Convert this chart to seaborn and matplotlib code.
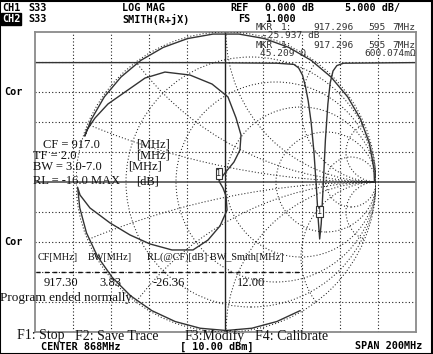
import numpy as np
import matplotlib
matplotlib.use("Agg")
import matplotlib.pyplot as plt
import seaborn as sns
import pandas as pd
from matplotlib.patches import Circle, Rectangle

W, H = 433, 354

# ---------------- data ----------------
# CH1 S33 LOG MAG trace (frequency MHz, dB)
logmag_freq = [768, 850, 895, 904, 906.5, 908.5, 910, 911.5, 913, 914.5, 915.8, 916.8, 917.5,
               918.3, 919.3, 920.5, 921.8, 923, 924.5, 926.5, 930, 968]
logmag_db = [-0.1, -0.1, -0.2, -0.4, -1.0, -2.2, -4.0, -6.5, -10.0, -15.0, -21.0, -26.5,
             -29.5, -27.0, -21.0, -13.0, -7.0, -3.5, -1.5, -0.6, -0.2, -0.1]

# CH2 S33 SMITH trace: arc before the resonance loop (|G|, angle deg)
arc1_mag = [0.99, 0.99, 0.99, 0.99, 0.99, 0.99, 0.99, 0.99, 0.99, 0.99, 0.99, 0.99, 0.99]
arc1_deg = [-60, -70, -80, -90, -100, -110, -120, -130, -140, -150, -160, -170, -178]
# resonance loop (Re G, Im G)
loop_re = [-0.973, -0.907, -0.773, -0.640, -0.507, -0.360, -0.220, -0.120, -0.040,
           0.007, 0.000, -0.020, -0.047, -0.007, 0.053, 0.093, 0.100, 0.067, 0.013,
           -0.093, -0.240, -0.407, -0.540, -0.673, -0.787, -0.873, -0.927]
loop_im = [-0.087, -0.173, -0.273, -0.353, -0.413, -0.453, -0.453, -0.387, -0.293,
           -0.187, -0.093, -0.040, 0.007, 0.060, 0.133, 0.213, 0.313, 0.427, 0.567,
           0.653, 0.713, 0.733, 0.693, 0.600, 0.520, 0.427, 0.347]
# arc after the loop
arc2_mag = [0.99] * 18
arc2_deg = [162, 155, 145, 135, 125, 115, 105, 95, 85, 75, 65, 55, 45, 35, 25, 15, 5, 0]

marker_freq = 917.296
marker_db = -25.937
marker_re, marker_im = -0.047, 0.007

table_header = ["CF[MHz]", "BW[MHz]", "RL(@CF)[dB] BW_Smith[MHz]"]
table_values = ["917.30", "3.83", "-26.36", "12.00"]

# ---------------- figure ----------------
sns.set_theme(style="white")
plt.rcParams['font.family'] = ['DejaVu Sans']

fig = plt.figure(figsize=(W / 100, H / 100), dpi=100)
fig.patch.set_facecolor("white")

# rectangular graticule + log mag
ax = fig.add_axes([34.5 / W, 1 - 332 / H, 381.5 / W, 300 / H])
ax.set_xlim(768, 968)
ax.set_ylim(-45, 5)
ax.set_xticks([]); ax.set_yticks([])
for s in ax.spines.values():
    s.set_color("#8a8a8a"); s.set_linewidth(1.3)
for i in range(1, 10):
    f = 768 + 20 * i
    if i == 5:
        ax.axvline(f, color="#222222", lw=1.0)
    else:
        ax.axvline(f, color="#222222", lw=0.8, ls=(0, (1, 2)))
    d = 5 - 5 * i
    if i == 5:
        ax.axhline(d, color="#444444", lw=1.1)
    else:
        ax.axhline(d, color="#222222", lw=0.8, ls=(0, (1, 2)))

lm = pd.DataFrame({"f": logmag_freq, "db": logmag_db})
sns.lineplot(data=lm, x="f", y="db", ax=ax, color="#333333", lw=1.0, sort=False,
             estimator=None)
ax.set_xlabel(""); ax.set_ylabel("")
ax.text(marker_freq, marker_db + 1.0, "1", fontsize=6, ha="center", va="center",
        family="DejaVu Sans Mono",
        bbox=dict(boxstyle="square,pad=0.1", fc="white", ec="#333333", lw=0.8))

# Smith chart
sax = fig.add_axes([76 / W, 1 - 332 / H, 300 / W, 300 / H])
sax.set_xlim(-1, 1); sax.set_ylim(-1, 1)
sax.axis("off")
sax.patch.set_alpha(0)
gkw = dict(fill=False, ec="#222222", lw=0.75, ls=(0, (1, 2)))
outer = Circle((0, 0), 1, transform=sax.transData, fill=False, ec="none")
sax.add_patch(outer)
sax.add_patch(Circle((0, 0), 1, **gkw))
for r in [0.2, 0.5, 1, 2, 5]:
    sax.add_patch(Circle((r / (1 + r), 0), 1 / (1 + r), **gkw))
for xv in [0.2, 0.5, 1, 2, 5]:
    for sgn in [1, -1]:
        c = Circle((1, sgn / xv), 1 / xv, **gkw)
        sax.add_patch(c)
        c.set_clip_path(outer)

a1 = np.deg2rad(arc1_deg); a2 = np.deg2rad(arc2_deg)
tr_re = np.concatenate([np.array(arc1_mag) * np.cos(a1), loop_re, np.array(arc2_mag) * np.cos(a2)])
tr_im = np.concatenate([np.array(arc1_mag) * np.sin(a1), loop_im, np.array(arc2_mag) * np.sin(a2)])
sm = pd.DataFrame({"re": tr_re, "im": tr_im})
sns.lineplot(data=sm, x="re", y="im", ax=sax, color="#333333", lw=1.0, sort=False,
             estimator=None)
sax.set_xlabel(""); sax.set_ylabel("")
sax.set_xlim(-1, 1); sax.set_ylim(-1, 1)
for ln in sax.lines:
    ln.set_clip_on(False)
sax.text(marker_re + 0.0, marker_im + 0.05, "1", fontsize=6, ha="center", va="center",
         family="DejaVu Sans Mono",
         bbox=dict(boxstyle="square,pad=0.1", fc="white", ec="#333333", lw=0.8))

# ---------------- texts ----------------
def T(x, y, s, **kw):
    kw.setdefault("va", "center")
    kw.setdefault("ha", "left")
    fig.text(x / W, 1 - y / H, s, **kw)

hdr = dict(family="DejaVu Sans Mono", weight="bold", fontsize=7.3, color="black")
T(2, 8, "CH1", **hdr); T(28, 8, "S33", **hdr)
T(2, 19, "CH2", bbox=dict(boxstyle="square,pad=0.1", fc="black", ec="black"),
  **{**hdr, "color": "white"})
T(28, 19, "S33", **hdr)
T(122, 8, "LOG MAG", **hdr)
T(122, 19, "SMITH(R+jX)", **hdr)
T(230, 8, "REF", **hdr); T(265, 8, "0.000 dB", **hdr)
T(345, 8, "5.000 dB/", **hdr)
T(238, 19, "FS", **hdr); T(265, 19, "1.000", **hdr)
T(4, 92, "Cor", **hdr); T(4, 242, "Cor", **hdr)
T(41, 347, "CENTER 868MHz", **hdr)
T(180, 347, "[ 10.00 dBm]", **hdr)
T(355, 346, "SPAN 200MHz", **hdr)

mk = dict(family="DejaVu Sans Mono", fontsize=6.8, color="#333333")
for yy in (28, 45):
    T(256, yy, "MKR", **mk); T(281, yy, "1:", **mk)
    T(313, yy, "917.296", **mk); T(368, yy, "595", **mk); T(392, yy, "7MHz", **mk)
T(262, 36, "-25.937 dB", **mk)
T(260, 53, "45.209 \u03a9", **mk); T(364, 53, "600.074m\u03a9", **mk)

sf = dict(family="Liberation Serif", fontsize=9.0, color="#111111")
T(43, 145, "CF = 917.0", **sf); T(136, 145, "[MHz]", **sf)
T(33, 156, "TF = 2.0", **sf); T(136, 156, "[MHz]", **sf)
T(33, 167, "BW = 3.0-7.0", **sf); T(128, 167, "[MHz]", **sf)
T(33, 181, "RL = -16.0 MAX", **sf); T(136, 181, "[dB]", **sf)

tf = dict(family="Liberation Serif", fontsize=7.4, color="#111111")
for xx, s in zip([38, 88, 147], table_header):
    T(xx, 257, s, **tf)
for xx, s in zip([44, 99, 153, 237], table_values):
    T(xx, 283, s, **sf)
fig.add_artist(plt.Line2D([36 / W, 300 / W], [1 - 272 / H, 1 - 272 / H],
                          transform=fig.transFigure, color="#111111", lw=1.0,
                          ls=(0, (3, 3))))
T(0, 298, "Program ended normally", **{**sf, "fontsize": 9.5})
ff = dict(family="Liberation Serif", fontsize=10.0, color="#111111")
T(17, 336, "F1: Stop", **ff); T(75, 336, "F2: Save Trace", **ff)
T(185, 336, "F3:Modify", **ff); T(255, 336, "F4: Calibrate", **ff)

fig.add_artist(Rectangle((0.001, 0.001), 0.997, 0.997, transform=fig.transFigure,
                         fill=False, ec="black", lw=1.5))

fig.savefig("out.png", dpi=100)
